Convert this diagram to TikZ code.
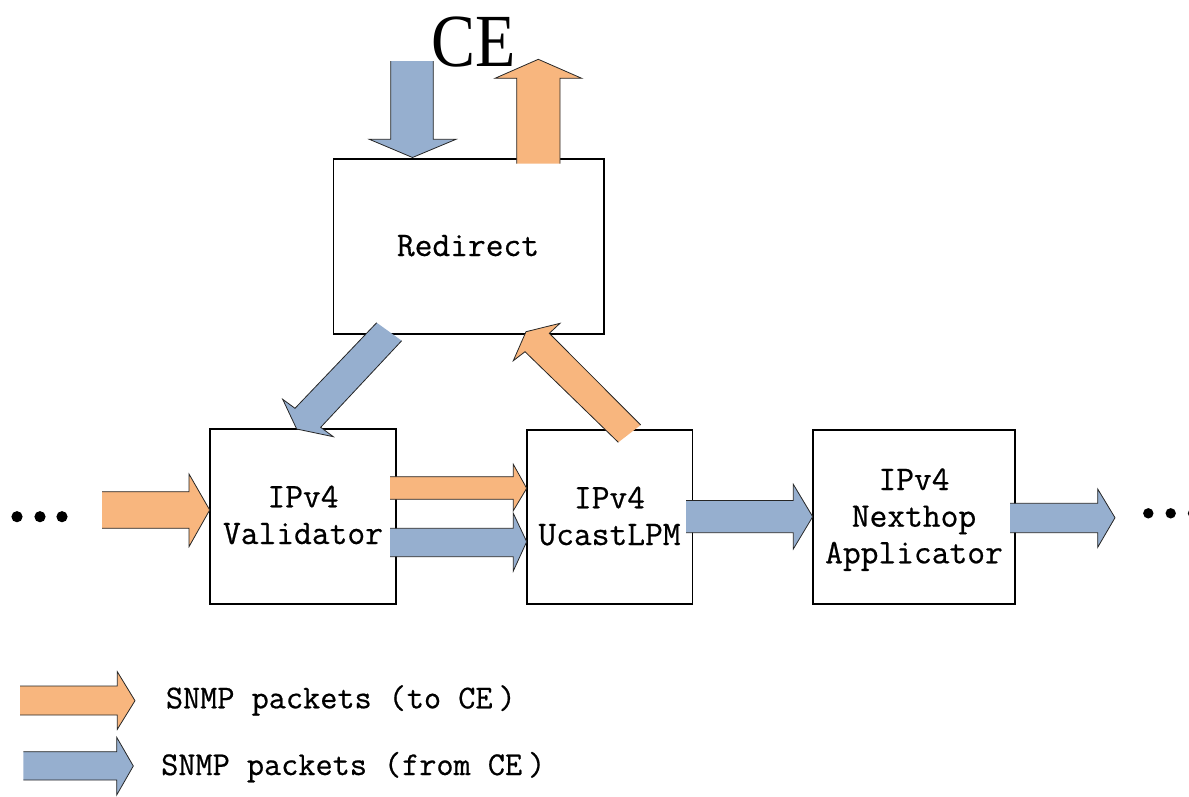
\documentclass[tikz,border=0pt]{standalone}
\usepackage{fontspec}
\newfontfamily\cefont{Liberation Serif}
\newfontfamily\monofont[FakeBold=0.6]{Latin Modern Mono}
\definecolor{orfill}{RGB}{248,182,126}
\definecolor{blfill}{RGB}{150,175,207}
\newcommand\fwlp{\hspace{17pt}(\hspace{1pt}}
\newcommand\fwrp{\hspace{6pt})}
\tikzset{
  box/.style={draw=black, line width=1.6pt, fill=white, inner sep=0pt, outer sep=0pt},
  arrline/.style={draw=black!85, line width=0.8pt, line join=miter},
  lbl/.style={font=\monofont\fontsize{34.5}{38}\selectfont, inner sep=0pt, anchor=base},
  leg/.style={font=\monofont\fontsize{33.3}{37}\selectfont, inner sep=0pt, anchor=base west},
  dotfill/.style={fill=black}
}
% block arrow: #1 fill colour, #2 and #8 are the tail corners (tail edge not stroked)
\newcommand\blockarr[8]{%
  \fill[#1] #2 -- #3 -- #4 -- #5 -- #6 -- #7 -- #8 -- cycle;
  \draw[arrline] #2 -- #3 -- #4 -- #5 -- #6 -- #7 -- #8;}
\begin{document}
\begin{tikzpicture}[x=1pt,y=-1pt]
\useasboundingbox (0,0) rectangle (1189,796);

% boxes
\node[box, minimum width=270.4pt, minimum height=174.7pt] (redirect) at (468.5,246.35) {};
\node[box, minimum width=186.3pt, minimum height=174.7pt] (val) at (302.85,516.35) {};
\node[box, minimum width=165.6pt, minimum height=173.7pt] (ucast) at (609.5,516.85) {};
\node[box, minimum width=202.3pt, minimum height=173.7pt] (nexthop) at (913.85,516.85) {};

% labels
\node[lbl] (tredirect) at (468,256) {Redirect};
\node[lbl] (tval1) at (303,507.3) {IPv4};
\node[lbl] (tval2) at (303,544) {Validator};
\node[lbl] (tuc1) at (609.5,508.3) {IPv4};
\node[lbl] (tuc2) at (609.5,545) {UcastLPM};
\node[lbl] (tnh1) at (914,490) {IPv4};
\node[lbl] (tnh2) at (914,526.7) {Nexthop};
\node[lbl] (tnh3) at (914,563.3) {Applicator};
\node[inner sep=0pt, anchor=base] (ce) at (473.7,66) {\scalebox{0.88}[1]{\cefont\fontsize{75}{80}\selectfont CE}};

% dots
\fill[dotfill] (17,516.7) circle (5.6) (40,516.7) circle (5.6) (62,516.7) circle (5.6);
\fill[dotfill] (1148.3,513.3) circle (5.2) (1170.7,513.3) circle (5.2) (1193,513.3) circle (5.2);

% horizontal arrows
\blockarr{orfill}{(102,491.7)}{(189,491.7)}{(189,474)}{(209.7,510)}{(189,546.7)}{(189,528.3)}{(102,528.3)}
\blockarr{orfill}{(390,476.7)}{(513.3,476.7)}{(513.3,464.3)}{(526.7,488.3)}{(513.3,510.7)}{(513.3,499.3)}{(390,499.3)}
\blockarr{blfill}{(390,528.3)}{(513.3,528.3)}{(513.3,513.3)}{(526.7,541.7)}{(513.3,571)}{(513.3,556.7)}{(390,556.7)}
\blockarr{blfill}{(686,500.5)}{(793.3,500.5)}{(793.3,484.3)}{(812.7,516.7)}{(793.3,549)}{(793.3,532.7)}{(686,532.7)}
\blockarr{blfill}{(1010,503.3)}{(1097.7,503.3)}{(1097.7,489)}{(1115,517.7)}{(1097.7,547.3)}{(1097.7,532.7)}{(1010,532.7)}

% vertical arrows (CE)
\blockarr{blfill}{(390.7,61)}{(390.7,139.3)}{(369.3,139.3)}{(412.5,157.5)}{(456,139.3)}{(433.3,139.3)}{(433.3,61)}
\blockarr{orfill}{(516.7,163.5)}{(516.7,78.3)}{(495,78.3)}{(538.3,59.3)}{(581.7,78.3)}{(560,78.3)}{(560,163.5)}

% diagonal arrows
\blockarr{blfill}{(376.7,322.7)}{(295,408.3)}{(282.7,399.3)}{(296.7,429)}{(333.3,436.7)}{(320.7,427.3)}{(401.7,340.7)}
\blockarr{orfill}{(618.3,442.3)}{(525,351.7)}{(513.3,360.7)}{(526,331.7)}{(560,323.3)}{(549.3,333.3)}{(640.7,425)}

% legend
\blockarr{orfill}{(20,686)}{(117.3,686)}{(117.3,671.7)}{(135,700.7)}{(117.3,729.3)}{(117.3,715)}{(20,715)}
\blockarr{blfill}{(23.3,751.7)}{(116.7,751.7)}{(116.7,737.3)}{(133.3,766)}{(116.7,795)}{(116.7,780)}{(23.3,780)}
\node[leg] (leg1) at (165.7,708.3) {SNMP packets\fwlp to CE\fwrp};
\node[leg] (leg2) at (161,775) {SNMP packets\fwlp from CE\fwrp};
\end{tikzpicture}
\end{document}
